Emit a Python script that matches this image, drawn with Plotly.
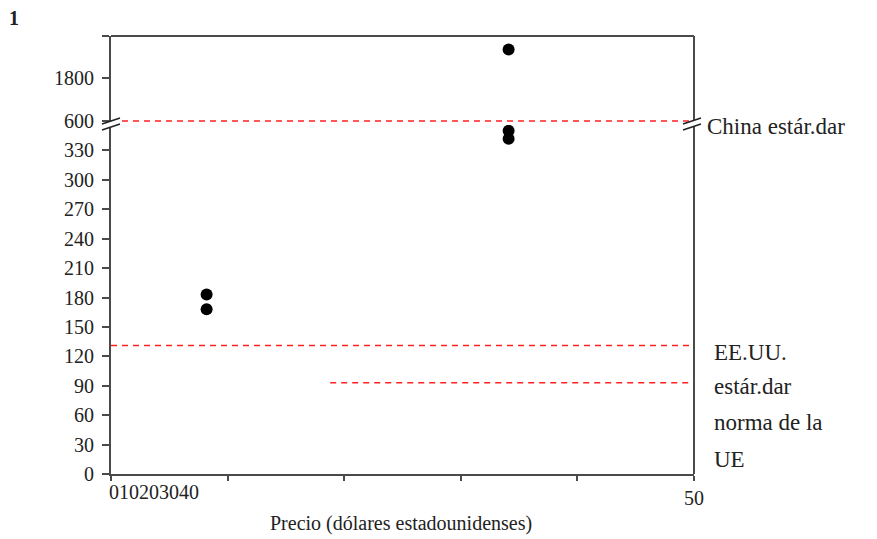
import plotly.graph_objects as go

# ---- data ----
price_a = [8.2, 8.2]            # lower-left pair
lead_a = [183, 168]
price_b = [34.1, 34.1]          # right pair below the break
lead_b = [350, 342]
price_c = [34.1]                # right point above the break
lead_c = [2595]

china_std = 600
us_std = 131
eu_std = 93
china_x = [0, 50]
us_x = [0, 49.7]
eu_x = [18.8, 49.7]

low_ticks = list(range(0, 331, 30))
high_ticks = [600, 1800, 2972]
high_ticktext = ["600", "1800", ""]
x_ticks = [0, 10, 20, 30, 40, 50]
x_ticktext = ["", "", "", "", "", "50"]

FONT = "Liberation Serif"
AX = "#4a4a4a"
W, H = 877, 539
L, R, T, B = 111, 183, 36, 65
PW, PH = W - L - R, H - T - B


def px_x(px):
    return (px - L) / PW


def px_y(py):
    return (H - B - py) / PH


fig = go.Figure()

red = dict(color="#ff2020", width=1.5, dash="6px,5px")
fig.add_trace(go.Scatter(x=china_x, y=[china_std] * 2, mode="lines", line=red,
                         xaxis="x", yaxis="y2", hoverinfo="skip"))
fig.add_trace(go.Scatter(x=us_x, y=[us_std] * 2, mode="lines", line=red,
                         xaxis="x", yaxis="y", hoverinfo="skip"))
fig.add_trace(go.Scatter(x=eu_x, y=[eu_std] * 2, mode="lines", line=red,
                         xaxis="x", yaxis="y", hoverinfo="skip"))

mk = dict(color="black", size=12)
fig.add_trace(go.Scatter(x=price_a, y=lead_a, mode="markers", marker=mk,
                         xaxis="x", yaxis="y"))
fig.add_trace(go.Scatter(x=price_b, y=lead_b, mode="markers", marker=mk,
                         xaxis="x", yaxis="y", cliponaxis=False))
fig.add_trace(go.Scatter(x=price_c, y=lead_c, mode="markers", marker=mk,
                         xaxis="x", yaxis="y2"))

# break position: 600 sits at pixel 121; low axis 0..360 spans 474..121
low_top = px_y(121)
high_bottom = px_y(125)
high_lo = 600 - 4 / 43 * 1200
high_hi = 600 + 85 / 43 * 1200

axis_common = dict(showline=True, linecolor=AX, linewidth=2, ticks="outside",
                   tickcolor=AX, tickwidth=2, showgrid=False, zeroline=False,
                   tickfont=dict(family=FONT, size=20, color="#222"))

fig.update_layout(
    width=W, height=H,
    margin=dict(l=L, r=R, t=T, b=B),
    paper_bgcolor="white", plot_bgcolor="white",
    font=dict(family=FONT, color="#222"),
    showlegend=False,
    xaxis=dict(range=[0, 50], domain=[0, 1], anchor="y",
               tickvals=x_ticks, ticktext=x_ticktext, ticklen=5,
               **axis_common),
    yaxis=dict(range=[0, 360], domain=[0, low_top], anchor="x",
               tickvals=low_ticks, ticklen=7, ticklabelstandoff=4,
               **axis_common),
    yaxis2=dict(range=[high_lo, high_hi], domain=[high_bottom, 1], anchor="x",
                tickvals=high_ticks, ticktext=high_ticktext, ticklen=7,
                ticklabelstandoff=4, **axis_common),
)

# frame: top and right borders
fig.add_shape(type="line", xref="paper", yref="paper", x0=0, x1=1, y0=1, y1=1,
              line=dict(color=AX, width=2))
fig.add_shape(type="line", xref="paper", yref="paper", x0=1, x1=1, y0=0, y1=1,
              line=dict(color=AX, width=2))

# axis break marks (left and right), drawn in pixels around the break point
brk_y = px_y(121)
for xa, off in [(0, 0), (1, -2)]:
    fig.add_shape(type="path", xref="paper", yref="paper", xsizemode="pixel",
                  ysizemode="pixel", xanchor=xa, yanchor=brk_y,
                  path=f"M {-8+off} -3 L {8+off} 3 L {8+off} -3 L {-8+off} -9 Z",
                  fillcolor="white", line=dict(width=0))
    for dy in (0, -6):
        fig.add_shape(type="line", xref="paper", yref="paper", xsizemode="pixel",
                      ysizemode="pixel", xanchor=xa, yanchor=brk_y,
                      x0=-9 + off, x1=9 + off, y0=-3 + dy, y1=3 + dy,
                      line=dict(color="#222", width=1.5))

ann_font = dict(family=FONT, size=23, color="#222")
labels = [("China estár.dar", 705, 126),
          ("EE.UU.", 712, 353),
          ("estár.dar", 712, 386),
          ("norma de la", 712, 422),
          ("UE", 712, 459)]
for txt, x, y in labels:
    fig.add_annotation(text=txt, xref="paper", yref="paper", x=px_x(x), y=px_y(y),
                       xanchor="left", yanchor="middle", showarrow=False,
                       font=ann_font)

fig.add_annotation(text="010203040", xref="paper", yref="paper",
                   x=px_x(107), y=px_y(492), xanchor="left", yanchor="middle",
                   showarrow=False, font=dict(family=FONT, size=20, color="#222"))
fig.add_annotation(text="Precio (dólares estadounidenses)", xref="paper", yref="paper",
                   x=px_x(401), y=px_y(523), xanchor="center", yanchor="middle",
                   showarrow=False, font=dict(family=FONT, size=20, color="#222"))
fig.add_annotation(text="<b>1</b>", xref="paper", yref="paper",
                   x=px_x(14), y=px_y(18), xanchor="center", yanchor="middle",
                   showarrow=False, font=dict(family=FONT, size=20, color="#222"))

fig.write_html("out.html", post_script="document.body.style.margin='0';",
               config={"displayModeBar": False})
